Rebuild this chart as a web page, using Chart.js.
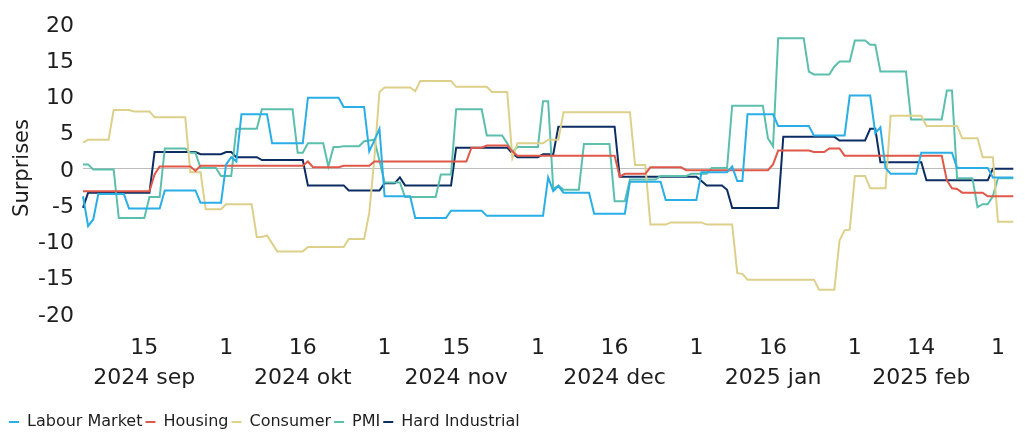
<!DOCTYPE html>
<html>
<head>
<meta charset="utf-8">
<script src="https://cdn.jsdelivr.net/npm/chart.js@4.4.1/dist/chart.umd.min.js"></script>
<style>
  html, body { margin: 0; padding: 0; background: #fff; }
  .wrap { width: 1025px; height: 433px; position: relative; }
</style>
</head>
<body>
<div class="wrap"><canvas id="chart"></canvas></div>
<script>
'use strict';

// one category per calendar day, 3 Sep 2024 -> 4 Mar 2025
const INICIO = new Date(2024, 8, 3);
const N_DIAS = 183;
const dias = [];
for (let i = 0; i < N_DIAS; i++) {
    const d = new Date(INICIO);
    d.setDate(d.getDate() + i);
    dias.push(d.toISOString().slice(0, 10));
}

const TICK_POS = [12, 28, 43, 59, 73, 89, 104, 120, 135, 151, 164, 179];
const TICK_TXT = [
    ['15', '2024 sep'], '1', ['16', '2024 okt'], '1', ['15', '2024 nov'], '1',
    ['16', '2024 dec'], '1', ['16', '2025 jan'], '1', ['14', '2025 feb'], '1',
];

const labourMarket = [
    -3.9, -8.0, -7.1, -3.6, -3.6, -3.6, -3.6, -3.6, -3.6, -5.6, -5.6, -5.6, -5.6, -5.6, -5.6, -5.6,
    -3.1, -3.1, -3.1, -3.1, -3.1, -3.1, -3.1, -4.8, -4.8, -4.8, -4.8, -4.8, 0.5, 1.5, 0.9,
    7.4, 7.4, 7.4, 7.4, 7.4, 7.4, 3.4, 3.4, 3.4, 3.4, 3.4, 3.4, 3.4,
    9.7, 9.7, 9.7, 9.7, 9.7, 9.7, 9.7, 8.4, 8.4, 8.4, 8.4, 8.4, 2.3, 3.8, 5.4,
    -3.9, -3.9, -3.9, -3.9, -3.9, -3.9, -6.9, -6.9, -6.9, -6.9, -6.9, -6.9, -6.9,
    -5.9, -5.9, -5.9, -5.9, -5.9, -5.9, -5.9,
    -6.6, -6.6, -6.6, -6.6, -6.6, -6.6, -6.6, -6.6, -6.6, -6.6, -6.6, -6.6, -1.3, -3.2, -2.5,
    -3.4, -3.4, -3.4, -3.4, -3.4, -3.4, -6.3, -6.3, -6.3, -6.3, -6.3, -6.3, -6.3,
    -1.9, -1.9, -1.9, -1.9, -1.9, -1.9, -1.9, -4.4, -4.4, -4.4, -4.4, -4.4, -4.4, -4.4,
    -0.6, -0.6, -0.6, -0.6, -0.6, -0.6, 0.2, -1.8, -1.8,
    7.4, 7.4, 7.4, 7.4, 7.4, 7.4, 5.8, 5.8, 5.8, 5.8, 5.8, 5.8, 5.8,
    4.5, 4.5, 4.5, 4.5, 4.5, 4.5, 4.5, 10.0, 10.0, 10.0, 10.0, 10.0, 4.8, 5.6, 0.0,
    -0.8, -0.8, -0.8, -0.8, -0.8, -0.8, 2.1, 2.1, 2.1, 2.1, 2.1, 2.1, 2.1,
    0.0, 0.0, 0.0, 0.0, 0.0, 0.0, 0.0, -1.3, -1.3, -1.3, -1.3, -1.3,
];

const housing = [
    -3.2, -3.2, -3.2, -3.2, -3.2, -3.2, -3.2, -3.2, -3.2, -3.2, -3.2, -3.2, -3.2, -3.2, -0.9,
    0.2, 0.2, 0.2, 0.2, 0.2, 0.2, 0.2, -0.4,
    0.3, 0.3, 0.3, 0.3, 0.3, 0.3, 0.3, 0.3, 0.3, 0.3, 0.3, 0.3, 0.3, 0.3, 0.3, 0.3, 0.3, 0.3, 0.3, 0.3, 0.3,
    0.9, 0.1, 0.1, 0.1, 0.1, 0.1, 0.1, 0.3, 0.3, 0.3, 0.3, 0.3, 0.3,
    0.9, 0.9, 0.9, 0.9, 0.9, 0.9, 0.9, 0.9, 0.9, 0.9, 0.9, 0.9, 0.9, 0.9, 0.9, 0.9, 0.9, 0.9, 0.9,
    2.8, 2.8, 2.8, 3.1, 3.1, 3.1, 3.1, 3.1, 2.3,
    1.7, 1.7, 1.7, 1.7, 1.7, 1.7, 1.7, 1.7, 1.7, 1.7, 1.7, 1.7, 1.7, 1.7, 1.7, 1.7, 1.7, 1.7, 1.7, 1.7,
    -1.2, -0.8, -0.8, -0.8, -0.8, -0.8, 0.1, 0.1, 0.1, 0.1, 0.1, 0.1, 0.1,
    -0.3, -0.3, -0.3, -0.3, -0.3, -0.3, -0.3, -0.3, -0.3, -0.3, -0.3, -0.3, -0.3, -0.3, -0.3, -0.3, -0.3,
    0.5, 2.4, 2.4, 2.4, 2.4, 2.4, 2.4, 2.4, 2.2, 2.2, 2.2, 2.7, 2.7, 2.7,
    1.7, 1.7, 1.7, 1.7, 1.7, 1.7, 1.7, 1.7, 1.7, 1.7, 1.7, 1.7, 1.7, 1.7, 1.7, 1.7, 1.7, 1.7, 1.7, 1.7,
    -1.7, -2.8, -2.9, -3.4, -3.4, -3.4, -3.4, -3.4, -3.9, -3.9, -3.9, -3.9, -3.9, -3.9,
];

const consumer = [
    3.5, 3.9, 3.9, 3.9, 3.9, 3.9, 8.0, 8.0, 8.0, 8.0, 7.8, 7.8, 7.8, 7.8,
    7.0, 7.0, 7.0, 7.0, 7.0, 7.0, 7.0, -0.6, -0.6, -0.6, -5.7, -5.7, -5.7, -5.7,
    -5.0, -5.0, -5.0, -5.0, -5.0, -5.0, -9.5, -9.5, -9.3, -10.4,
    -11.5, -11.5, -11.5, -11.5, -11.5, -11.5, -10.9, -10.9, -10.9, -10.9, -10.9, -10.9, -10.9, -10.9,
    -9.8, -9.8, -9.8, -9.8, -6.2, 1.3, 10.5,
    11.1, 11.1, 11.1, 11.1, 11.1, 11.1, 10.6, 12.0, 12.0, 12.0, 12.0, 12.0, 12.0, 12.0,
    11.2, 11.2, 11.2, 11.2, 11.2, 11.2, 11.2, 10.5, 10.5, 10.5, 10.5, 1.4,
    3.4, 3.4, 3.4, 3.4, 3.4, 3.4, 3.9, 3.9, 3.9,
    7.7, 7.7, 7.7, 7.7, 7.7, 7.7, 7.7, 7.7, 7.7, 7.7, 7.7, 7.7, 7.7, 7.7, 0.4, 0.4, 0.4,
    -7.8, -7.8, -7.8, -7.8, -7.5, -7.5, -7.5, -7.5, -7.5, -7.5, -7.5,
    -7.8, -7.8, -7.8, -7.8, -7.8, -7.8, -14.5, -14.6,
    -15.4, -15.4, -15.4, -15.4, -15.4, -15.4, -15.4, -15.4, -15.4, -15.4, -15.4, -15.4, -15.4, -15.4,
    -16.8, -16.8, -16.8, -16.8, -10.0, -8.6, -8.5, -1.1, -1.1, -1.1, -2.8, -2.8, -2.8, -2.8,
    7.2, 7.2, 7.2, 7.2, 7.2, 7.2, 7.2, 5.8, 5.8, 5.8, 5.8, 5.8, 5.8, 5.8,
    4.1, 4.1, 4.1, 4.1, 1.5, 1.5, 1.5, -7.4, -7.4, -7.4, -7.4,
];

const pmi = [
    0.5, 0.5, -0.2, -0.2, -0.2, -0.2, -0.2, -6.9, -6.9, -6.9, -6.9, -6.9, -6.9, -4.0, -4.0, -4.0,
    2.7, 2.7, 2.7, 2.7, 2.7, 2.1, 2.1, 0.0, 0.0, 0.0, 0.0, -1.1, -1.1, -1.1,
    5.4, 5.4, 5.4, 5.4, 5.4, 8.1, 8.1, 8.1, 8.1, 8.1, 8.1, 8.1, 2.1, 2.1,
    3.4, 3.4, 3.4, 3.4, 0.2, 2.9, 2.9, 3.0, 3.0, 3.0, 3.0, 3.7, 3.8, 3.9, 1.0,
    -2.0, -2.0, -2.0, -2.0, -4.0, -4.0, -4.0, -4.0, -4.0, -4.0, -4.0, -0.9, -0.9, -0.9,
    8.1, 8.1, 8.1, 8.1, 8.1, 8.1, 4.5, 4.5, 4.5, 4.5, 3.4, 2.2, 2.9, 2.9, 2.9, 2.9, 2.9,
    9.2, 9.2, -2.9, -2.4, -3.0, -3.0, -3.0, -3.0, 3.3, 3.3, 3.3, 3.3, 3.3, 3.3,
    -4.6, -4.6, -4.6, -1.6, -1.6, -1.6, -1.6, -1.6, -1.6, -1.1, -1.1, -1.1, -1.1, -1.1, -1.1,
    -0.8, -0.8, -0.8, -0.8, 0.0, 0.0, 0.0, 0.0,
    8.6, 8.6, 8.6, 8.6, 8.6, 8.6, 8.6, 4.1, 3.0,
    17.9, 17.9, 17.9, 17.9, 17.9, 17.9, 13.3, 12.9, 12.9, 12.9, 12.9, 14.0, 14.7, 14.7, 14.7,
    17.6, 17.6, 17.6, 17.0, 17.0, 13.3, 13.3, 13.3, 13.3, 13.3, 13.3,
    6.7, 6.7, 6.7, 6.7, 6.7, 6.7, 6.7, 10.7, 10.7,
    -1.4, -1.4, -1.4, -1.4, -5.4, -5.0, -5.0, -3.9, -1.4, -1.4, -1.4, -1.4,
];

const hardIndustrial = [
    -5.5, -3.4, -3.4, -3.4, -3.4, -3.4, -3.4, -3.4, -3.4, -3.4, -3.4, -3.4, -3.4, -3.4,
    2.2, 2.2, 2.2, 2.2, 2.2, 2.2, 2.2, 2.2, 2.2, 1.9, 1.9, 1.9, 1.9, 1.9, 2.2, 2.2,
    1.5, 1.5, 1.5, 1.5, 1.5, 1.1, 1.1, 1.1, 1.1, 1.1, 1.1, 1.1, 1.1, 1.1,
    -2.4, -2.4, -2.4, -2.4, -2.4, -2.4, -2.4, -2.4, -3.1, -3.1, -3.1, -3.1, -3.1, -3.1, -3.1,
    -2.1, -2.1, -2.1, -1.3, -2.4, -2.4, -2.4, -2.4, -2.4, -2.4, -2.4, -2.4, -2.4, -2.4,
    2.8, 2.8, 2.8, 2.8, 2.8, 2.8, 2.8, 2.8, 2.8, 2.8, 2.8, 2.0, 1.5, 1.5, 1.5, 1.5, 1.5, 1.9, 1.9, 1.9,
    5.7, 5.7, 5.7, 5.7, 5.7, 5.7, 5.7, 5.7, 5.7, 5.7, 5.7, 5.7,
    -1.2, -1.2, -1.2, -1.2, -1.2, -1.2, -1.2, -1.2, -1.2, -1.2, -1.2, -1.2, -1.2, -1.2, -1.2, -1.2,
    -1.8, -2.4, -2.4, -2.4, -2.4, -3.0,
    -5.5, -5.5, -5.5, -5.5, -5.5, -5.5, -5.5, -5.5, -5.5, -5.5,
    4.3, 4.3, 4.3, 4.3, 4.3, 4.3, 4.3, 4.3, 4.3, 4.3, 4.3, 3.8, 3.8, 3.8, 3.8, 3.8, 3.8, 5.4, 5.4,
    0.8, 0.8, 0.8, 0.8, 0.8, 0.8, 0.8, 0.8, 0.8,
    -1.7, -1.7, -1.7, -1.7, -1.7, -1.7, -1.7, -1.7, -1.7, -1.7, -1.7, -1.7, -1.7,
    -0.1, -0.1, -0.1, -0.1, -0.1,
];

const SERIES = [
    { label: 'Labour Market', data: labourMarket, color: '#2aaee6' },
    { label: 'Housing', data: housing, color: '#e0584a' },
    { label: 'Consumer', data: consumer, color: '#ddd08b' },
    { label: 'PMI', data: pmi, color: '#5cbfad' },
    { label: 'Hard Industrial', data: hardIndustrial, color: '#0c2d63' },
];

const TEXTO = '#1e1e1e';
Chart.defaults.font.family = "'DejaVu Sans', sans-serif";
Chart.defaults.color = TEXTO;

new Chart(document.getElementById('chart'), {
    type: 'line',
    data: {
        labels: dias,
        datasets: SERIES.map((s) => ({
            label: s.label,
            data: s.data,
            borderColor: s.color,
            backgroundColor: s.color,
            borderWidth: 2,
            pointRadius: 0,
            tension: 0,
        })),
    },
    options: {
        responsive: true,
        maintainAspectRatio: false,
        animation: false,
        // legend reserves 10px under its row; negative bottom padding pushes it down
        layout: { padding: { left: 6, right: 2, top: 23, bottom: -7 } },
        plugins: {
            legend: {
                position: 'bottom',
                align: 'start',
                labels: {
                    usePointStyle: true,
                    pointStyle: 'line',
                    pointStyleWidth: 10,
                    padding: 3,
                    color: TEXTO,
                    font: { size: 16 },
                },
            },
            tooltip: { enabled: false },
        },
        scales: {
            x: {
                grid: { display: false, drawTicks: false },
                border: { display: false },
                afterBuildTicks: (s) => { s.ticks = s.ticks.filter((t) => TICK_POS.includes(t.value)); },
                afterFit: (s) => { s.height = 98; },
                ticks: {
                    autoSkip: false,
                    maxRotation: 0,
                    padding: 20,
                    color: TEXTO,
                    font: { size: 22, lineHeight: 1.3636 },
                    callback: (v) => TICK_TXT[TICK_POS.indexOf(v)],
                },
            },
            y: {
                min: -20,
                max: 20,
                border: { display: false },
                grid: {
                    drawTicks: false,
                    lineWidth: 1,
                    color: (c) => (c.tick && c.tick.value === 0 ? '#bdbdbd' : 'rgba(0,0,0,0)'),
                },
                afterFit: (s) => { s.width = 77; },
                ticks: { stepSize: 5, padding: 9, labelOffset: 3, color: TEXTO, font: { size: 22 } },
                title: {
                    display: true,
                    text: 'Surprises',
                    color: TEXTO,
                    font: { size: 21 },
                    padding: { top: 4, bottom: 4 },
                },
            },
        },
    },
});
</script>
</body>
</html>
